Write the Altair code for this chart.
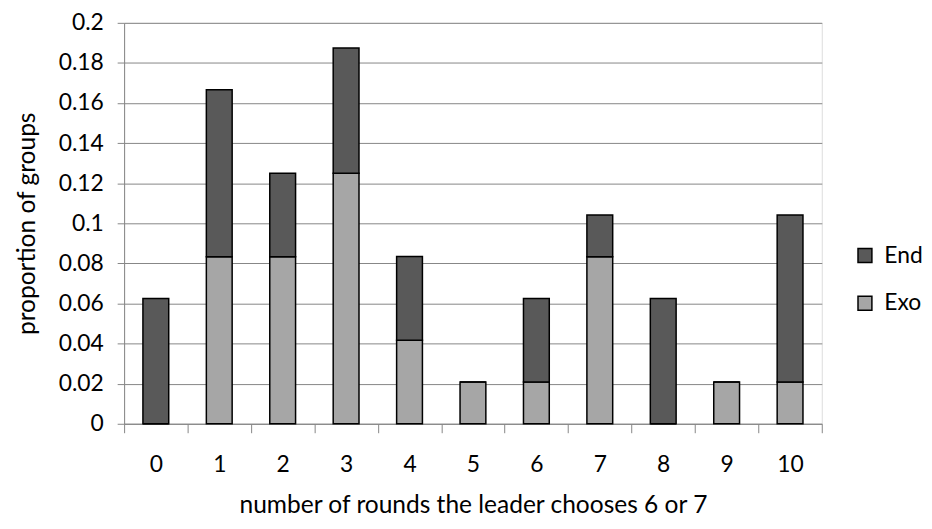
import altair as alt
import pandas as pd

rounds = ["0", "1", "2", "3", "4", "5", "6", "7", "8", "9", "10"]
exo = [0.0, 0.0833, 0.0833, 0.125, 0.0417, 0.0208, 0.0208, 0.0833, 0.0, 0.0208, 0.0208]
end = [0.0625, 0.0833, 0.0417, 0.0625, 0.0417, 0.0, 0.0417, 0.0208, 0.0625, 0.0, 0.0833]
y_ticks = [0, 0.02, 0.04, 0.06, 0.08, 0.1, 0.12, 0.14, 0.16, 0.18, 0.2]

rows = []
for r, a, b in zip(rounds, exo, end):
    rows.append({"round": r, "series": "Exo", "value": a, "ord": 0})
    rows.append({"round": r, "series": "End", "value": b, "ord": 1})
df = pd.DataFrame(rows)

FONT = "Lato"
FS = 23
TFS = 24.7

chart = alt.Chart(df).mark_bar(size=26, stroke="black", strokeWidth=1.5).encode(
    x=alt.X("round:N", sort=rounds,
            scale=alt.Scale(paddingInner=0, paddingOuter=0),
            axis=alt.Axis(title="number of rounds the leader chooses 6 or 7",
                          labelAngle=0, tickBand="extent", grid=False,
                          domainColor="#868686", tickColor="#868686",
                          tickSize=9, labelPadding=21, titlePadding=16,
                          labelFontSize=FS, titleFontSize=TFS,
                          labelColor="black", titleColor="black",
                          labelFont=FONT, titleFont=FONT, titleFontWeight="normal")),
    y=alt.Y("value:Q", stack="zero",
            scale=alt.Scale(domain=[0, 0.2], nice=False),
            axis=alt.Axis(title="proportion of groups", values=y_ticks, format="~g",
                          grid=True, gridColor="#868686", domainColor="#868686",
                          tickColor="#868686", tickSize=7, labelPadding=14,
                          titlePadding=19,
                          labelFontSize=FS, titleFontSize=TFS,
                          labelColor="black", titleColor="black",
                          labelFont=FONT, titleFont=FONT, titleFontWeight="normal")),
    color=alt.Color("series:N",
                    scale=alt.Scale(domain=["End", "Exo"], range=["#595959", "#a6a6a6"]),
                    legend=alt.Legend(title=None, orient="none", legendX=735, legendY=223,
                                      padding=0,
                                      symbolType="square", symbolSize=196,
                                      symbolStrokeColor="black", symbolStrokeWidth=1.5,
                                      labelFontSize=FS, labelFont=FONT, labelColor="black",
                                      rowPadding=24, labelOffset=8)),
    order=alt.Order("ord:Q"),
).properties(
    width=703, height=404,
    autosize=alt.AutoSizeParams(type="none"),
    padding={"left": 117, "top": 13, "right": 103, "bottom": 95},
).configure_view(stroke=None).configure(background="white")

chart.save("out.html", embed_options={"renderer": "svg", "actions": False})
